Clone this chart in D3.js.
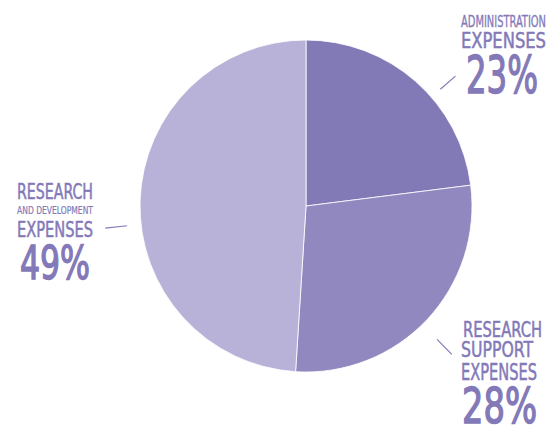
<!DOCTYPE html>
<html>
<head>
<meta charset="utf-8">
<script src="https://cdn.jsdelivr.net/npm/d3@7"></script>
<style>
  html, body { margin: 0; padding: 0; background: #fff; }
  svg text { font-family: "DejaVu Sans Condensed", "Liberation Sans Narrow", sans-serif; fill: #8379b8; stroke: #8379b8; }
</style>
</head>
<body>
<div id="chart"></div>
<script>
// Expense shares (%)
const categories = ["Administration expenses", "Research support expenses", "Research and development expenses"];
const values = [23, 28, 49];
const colors = ["#8279b7", "#9188c0", "#b8b1d8"];

// Label text lines per category
const labelLines = [
    ["ADMINISTRATION", "EXPENSES", "23%"],
    ["RESEARCH", "SUPPORT", "EXPENSES", "28%"],
    ["RESEARCH", "AND DEVELOPMENT", "EXPENSES", "49%"]
];

const width = 554, height = 428;
const cx = 306, cy = 206, radius = 166;

const svg = d3.select("#chart")
    .append("svg")
    .attr("width", width)
    .attr("height", height);

const g = svg.append("g")
    .attr("transform", `translate(${cx},${cy})`);

// Pie starts at 12 o'clock, clockwise, in data order
const pie = d3.pie().sort(null).value(d => d);
const arc = d3.arc().innerRadius(0).outerRadius(radius);

g.selectAll("path")
    .data(pie(values))
    .enter().append("path")
    .attr("d", arc)
    .attr("fill", (d, i) => colors[i])
    .attr("stroke", "#fff")
    .attr("stroke-width", 0.8);

// Leader lines (angle in degrees from 12 o'clock, inner/outer radius)
const leaders = [
    { angle: 49, r0: 178, r1: 198 },
    { angle: 135.5, r0: 187, r1: 208 },
    { angle: 263.7, r0: 180, r1: 202 }
];
const pt = (a, r) => d3.pointRadial(a * Math.PI / 180, r);
g.selectAll("line.leader")
    .data(leaders)
    .enter().append("line")
    .attr("class", "leader")
    .attr("x1", d => pt(d.angle, d.r0)[0])
    .attr("y1", d => pt(d.angle, d.r0)[1])
    .attr("x2", d => pt(d.angle, d.r1)[0])
    .attr("y2", d => pt(d.angle, d.r1)[1])
    .attr("stroke", "#8379b8")
    .attr("stroke-width", 1.2);

// Label layout: x, baseline, font size, fitted width and extra stroke of each line
const labelLayout = [
    [ { x: 461, y: 27, fs: 16, w: 85, sw: 0.3 }, { x: 461, y: 48, fs: 21.5, w: 85, sw: 0.5 }, { x: 466, y: 93, fs: 52, w: 72, sw: 1.4 } ],
    [ { x: 463, y: 337, fs: 20.5, w: 79, sw: 0.5 }, { x: 461, y: 357, fs: 21.5, w: 72, sw: 0.5 }, { x: 461, y: 380, fs: 22.5, w: 76, sw: 0.5 }, { x: 462, y: 423, fs: 49, w: 75, sw: 1.4 } ],
    [ { x: 17, y: 199, fs: 21.5, w: 76, sw: 0.5 }, { x: 17, y: 214, fs: 10.5, w: 76, sw: 0.2 }, { x: 17, y: 237, fs: 21.5, w: 76, sw: 0.5 }, { x: 20, y: 279, fs: 46, w: 70, sw: 1.4 } ]
];

labelLines.forEach((lines, i) => {
    const lg = svg.append("g").attr("class", "label");
    lines.forEach((t, j) => {
        const l = labelLayout[i][j];
        lg.append("text")
            .attr("x", l.x)
            .attr("y", l.y)
            .attr("font-size", l.fs + "px")
            .attr("stroke-width", l.sw)
            .attr("textLength", l.w)
            .attr("lengthAdjust", "spacingAndGlyphs")
            .text(t);
    });
});
</script>
</body>
</html>
